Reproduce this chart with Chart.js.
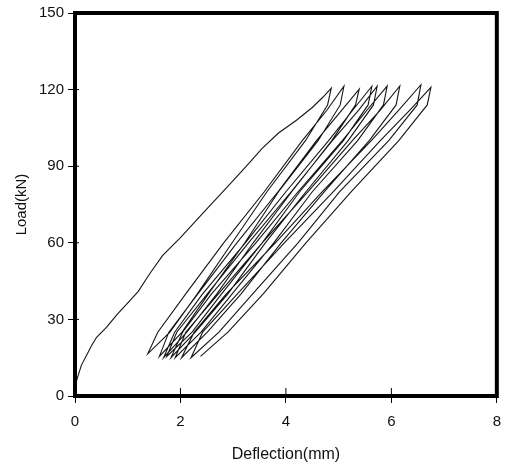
<!DOCTYPE html>
<html>
<head>
<meta charset="utf-8">
<script src="https://cdn.jsdelivr.net/npm/chart.js@4.4.1/dist/chart.umd.min.js"></script>
<style>
  html, body { margin: 0; padding: 0; background: #fff; }
  #wrap { width: 511px; height: 464px; }
</style>
</head>
<body>
<div id="wrap"><canvas id="loadChart" width="511" height="464"></canvas></div>
<script>
// Axis ticks
const xTicks = [0, 2, 4, 6, 8];
const yTicks = [0, 30, 60, 90, 120, 150];

// First (virgin) loading curve
const virginDefl = [0, 0.03, 0.12, 0.22, 0.32, 0.41, 0.6, 0.8, 0.98, 1.2, 1.42, 1.66, 2.0, 2.4, 2.85, 3.25, 3.55, 3.86, 4.2, 4.5, 4.7, 4.86];
const virginLoad = [2, 6, 12, 16, 20, 23, 27, 32, 36, 41, 48, 55, 62, 71, 81, 90, 97, 103, 108, 113, 117, 120.6];

// Cycle peaks and bottoms
const peakLoad = [120.6, 121.3, 120.2, 121.3, 121.3, 121.4, 121.4, 121.9, 120.9];
const bottomLoad = [16.5, 15.5, 15, 15.5, 15, 15, 15, 15, 15.5];

// Intermediate load levels along each branch
const unloadLevels = [114, 100, 80, 60, 40, 25];
const reloadLevels = [25, 40, 60, 80, 100, 112];

// Unloading branches: peak -> levels -> bottom (one per peak)
const unloadDefl = [
  [4.86, 4.79, 4.37, 3.64, 2.98, 2.32, 1.80, 1.38],
  [5.10, 5.03, 4.61, 3.86, 3.22, 2.53, 2.03, 1.60],
  [5.39, 5.32, 4.87, 4.11, 3.38, 2.69, 2.12, 1.68],
  [5.63, 5.56, 5.09, 4.26, 3.55, 2.78, 2.22, 1.74],
  [5.73, 5.66, 5.18, 4.38, 3.61, 2.90, 2.28, 1.82],
  [5.92, 5.85, 5.36, 4.50, 3.77, 2.98, 2.39, 1.90],
  [6.16, 6.09, 5.58, 4.73, 3.91, 3.15, 2.51, 2.02],
  [6.56, 6.49, 5.95, 5.02, 4.23, 3.37, 2.73, 2.20],
  [6.75, 6.68, 6.14, 5.24, 4.38, 3.57, 2.90, 2.38]
];

// Reloading branches: bottom -> levels -> next peak
const reloadDefl = [
  [1.38, 1.57, 2.10, 2.82, 3.59, 4.31, 4.78, 5.10],
  [1.60, 1.78, 2.33, 3.07, 3.85, 4.58, 5.06, 5.39],
  [1.68, 1.89, 2.42, 3.23, 4.00, 4.81, 5.27, 5.63],
  [1.74, 1.93, 2.51, 3.29, 4.10, 4.88, 5.38, 5.73],
  [1.82, 2.04, 2.59, 3.43, 4.23, 5.07, 5.54, 5.92],
  [1.90, 2.10, 2.72, 3.55, 4.42, 5.26, 5.79, 6.16],
  [2.02, 2.26, 2.87, 3.80, 4.69, 5.62, 6.14, 6.56],
  [2.20, 2.42, 3.08, 3.97, 4.90, 5.79, 6.35, 6.75]
];

// Build the single load path
const path = [];
virginDefl.forEach((d, i) => path.push({ x: d, y: virginLoad[i] }));
for (let c = 0; c < unloadDefl.length; c++) {
  const uLoads = [peakLoad[c]].concat(unloadLevels, [bottomLoad[c]]);
  unloadDefl[c].forEach((d, i) => path.push({ x: d, y: uLoads[i] }));
  if (c < reloadDefl.length) {
    const rLoads = [bottomLoad[c]].concat(reloadLevels, [peakLoad[c + 1]]);
    reloadDefl[c].forEach((d, i) => path.push({ x: d, y: rLoads[i] }));
  }
}

const FONT = '"Liberation Sans", Arial, Helvetica, sans-serif';
const INK = '#111';

// frame round the plot area, plus the inner half of each tick
const framePlugin = {
  id: 'frame',
  afterDraw(chart) {
    const a = chart.chartArea;
    const c = chart.ctx;
    c.save();
    c.strokeStyle = '#000';
    c.lineWidth = 1;
    c.beginPath();
    xTicks.forEach(v => {
      const px = chart.scales.x.getPixelForValue(v);
      c.moveTo(px, a.bottom);
      c.lineTo(px, a.bottom - 8);
    });
    yTicks.forEach(v => {
      const py = chart.scales.y.getPixelForValue(v);
      c.moveTo(a.left, py);
      c.lineTo(a.left + 4, py);
    });
    c.stroke();
    c.lineWidth = 4;
    c.strokeRect(a.left, a.top, a.right - a.left, a.bottom - a.top);
    c.restore();
  }
};

const ctx = document.getElementById('loadChart').getContext('2d');
const chart = new Chart(ctx, {
  type: 'scatter',
  data: {
    datasets: [{
      data: path,
      showLine: true,
      borderColor: '#151515',
      borderWidth: 1.1,
      pointRadius: 0,
      tension: 0,
      fill: false
    }]
  },
  options: {
    responsive: false,
    animation: false,
    layout: { padding: { left: 13, right: 13, top: 13, bottom: 0 } },
    plugins: { legend: { display: false }, tooltip: { enabled: false } },
    scales: {
      x: {
        type: 'linear',
        min: 0,
        max: 8,
        afterBuildTicks: (s) => { s.ticks = xTicks.map(v => ({ value: v })); },
        afterFit: (s) => { s.height = 68; },
        grid: { drawOnChartArea: false, color: '#000', tickLength: 7, lineWidth: 1 },
        border: { display: false },
        ticks: { color: INK, font: { family: FONT, size: 15 }, padding: 10, maxRotation: 0 },
        title: { display: true, text: 'Deflection(mm)', color: INK, font: { family: FONT, size: 16 }, padding: { top: 4, bottom: 0 } }
      },
      y: {
        type: 'linear',
        min: 0,
        max: 150,
        afterBuildTicks: (s) => { s.ticks = yTicks.map(v => ({ value: v })); },
        afterFit: (s) => { s.width = 62; },
        grid: { drawOnChartArea: false, color: '#000', tickLength: 7, lineWidth: 1 },
        border: { display: false },
        ticks: { color: INK, font: { family: FONT, size: 15 }, padding: 4 },
        title: { display: true, text: 'Load(kN)', color: INK, font: { family: FONT, size: 15 }, padding: { top: 0, bottom: 4 } }
      }
    }
  },
  plugins: [framePlugin]
});
</script>
</body>
</html>
